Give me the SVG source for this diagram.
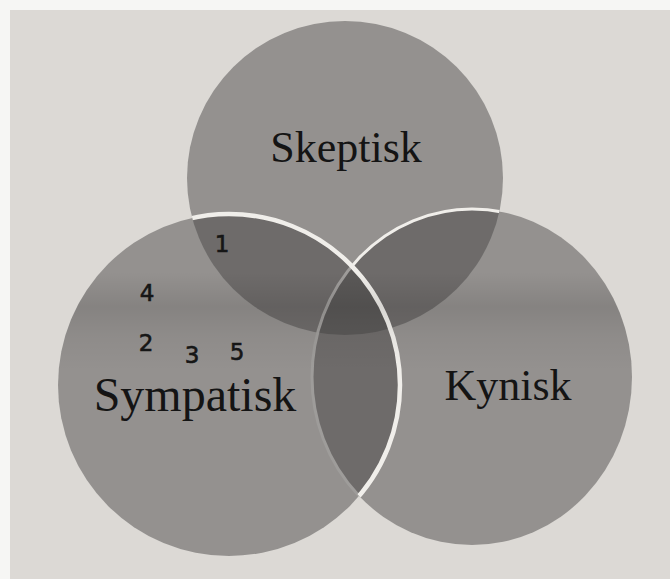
<svg xmlns="http://www.w3.org/2000/svg" width="670" height="579" viewBox="0 0 670 579">
  <style>
    .set { fill: rgb(70,66,67); fill-opacity: 0.48; }
    .rim { fill: none; stroke: #f0eeea; }
    .label { font-family: "Liberation Serif", "DejaVu Serif", serif; fill: #141414; }
    .mark { font-family: "DejaVu Sans", "Liberation Sans", sans-serif; fill: #161616; stroke: #161616; stroke-width: 0.6; font-size: 23px; }
  </style>
  <defs>
    <linearGradient id="shade" x1="0" y1="0" x2="0" y2="579" gradientUnits="userSpaceOnUse">
      <stop offset="0" stop-color="#000" stop-opacity="0"/>
      <stop offset="0.47" stop-color="#000" stop-opacity="0"/>
      <stop offset="0.53" stop-color="#000" stop-opacity="0.10"/>
      <stop offset="0.58" stop-color="#000" stop-opacity="0.04"/>
      <stop offset="0.64" stop-color="#000" stop-opacity="0"/>
      <stop offset="1" stop-color="#000" stop-opacity="0"/>
    </linearGradient>
    <clipPath id="sets">
      <ellipse cx="345" cy="178" rx="158" ry="157"/>
      <ellipse cx="229" cy="385" rx="171" ry="171"/>
      <ellipse cx="472" cy="377" rx="160" ry="168"/>
    </clipPath>
    <!-- rims only show where they cross another set -->
    <clipPath id="inTopRight">
      <ellipse cx="345" cy="178" rx="158" ry="157"/>
      <ellipse cx="472" cy="377" rx="160" ry="168"/>
    </clipPath>
    <clipPath id="inTopLeft">
      <ellipse cx="345" cy="178" rx="158" ry="157"/>
      <ellipse cx="229" cy="385" rx="171" ry="171"/>
    </clipPath>
  </defs>

  <!-- paper -->
  <rect width="670" height="579" fill="#f6f6f4"/>
  <rect x="10" y="10" width="660" height="569" fill="#dcd9d5"/>

  <g id="skeptisk">
    <ellipse class="set" cx="345" cy="178" rx="158" ry="157"/>
    <text class="label" x="346" y="162" font-size="44" text-anchor="middle">Skeptisk</text>
  </g>

  <g id="kynisk">
    <ellipse class="set" cx="472" cy="377" rx="160" ry="168"/>
    <ellipse class="rim" cx="472" cy="377" rx="160" ry="168" stroke-width="3" clip-path="url(#inTopLeft)"/>
    <text class="label" x="508" y="400" font-size="44" text-anchor="middle">Kynisk</text>
  </g>

  <g id="sympatisk">
    <ellipse class="set" cx="229" cy="385" rx="171" ry="171"/>
    <ellipse class="rim" cx="229" cy="385" rx="171" ry="171" stroke-width="4.5" clip-path="url(#inTopRight)"/>
    <text class="label" x="195" y="411" font-size="48" text-anchor="middle">Sympatisk</text>
  </g>

  <!-- darker lighting band across the sets -->
  <rect x="0" y="0" width="670" height="579" fill="url(#shade)" clip-path="url(#sets)"/>

  <!-- pencilled numbers -->
  <g id="marks">
    <text class="mark" x="222" y="252" text-anchor="middle">1</text>
    <text class="mark" x="147" y="301" text-anchor="middle">4</text>
    <text class="mark" x="146" y="351" text-anchor="middle">2</text>
    <text class="mark" x="192" y="363" text-anchor="middle">3</text>
    <text class="mark" x="237" y="360" text-anchor="middle">5</text>
  </g>
</svg>
